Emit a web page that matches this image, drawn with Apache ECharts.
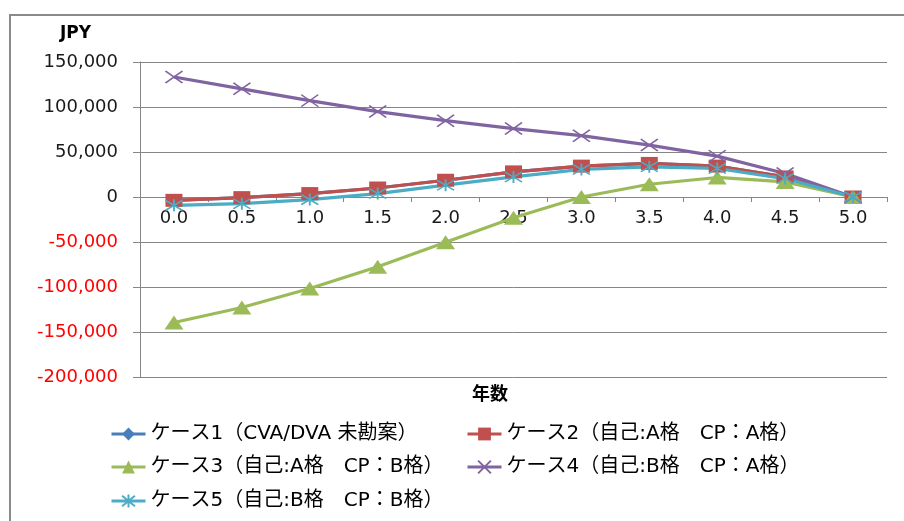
<!DOCTYPE html>
<html><head><meta charset="utf-8">
<script src="https://cdn.jsdelivr.net/npm/echarts@6/dist/echarts.min.js"></script>
<style>html,body{margin:0;padding:0;background:#fff}#c{width:904px;height:521px}</style>
</head><body><div id="c"></div>
<script>
const categories = ['0.0','0.5','1.0','1.5','2.0','2.5','3.0','3.5','4.0','4.5','5.0'];
const case1 = [-3700, -700, 3800, 10000, 18600, 27900, 34300, 37300, 34300, 22300, 0];
const case2 = [-3700, -700, 3800, 10000, 18600, 27900, 34300, 37300, 34300, 22300, 0];
const case3 = [-139500, -122800, -101600, -77400, -50200, -23000, 0, 14200, 21700, 16700, 0];
const case4 = [133300, 120200, 107100, 94900, 84800, 76000, 68100, 57700, 45400, 26100, 0];
const case5 = [-9300, -7400, -2900, 3800, 13100, 22300, 30600, 33500, 31700, 20500, 0];
const seriesNames = ['ケース1（CVA/DVA 未勘案）','ケース2（自己:A格　CP：A格）','ケース3（自己:A格　CP：B格）','ケース4（自己:B格　CP：A格）','ケース5（自己:B格　CP：B格）'];
const yMin = -200000, yMax = 150000, yStep = 50000;

const FONT = '"DejaVu Sans", "Noto Sans CJK JP", sans-serif';
const chart = echarts.init(document.getElementById('c'));
function mk(name, data, color, symbol, size, hollow) {
  return {
    name, type: 'line', data, symbol, symbolSize: size, showAllSymbol: true,
    lineStyle: { color, width: 3.2 },
    itemStyle: hollow ? { color: 'rgba(0,0,0,0)', borderColor: color, borderWidth: 1.6 } : { color },
    emphasis: { disabled: true }, animation: false
  };
}
const X = 'path://M0,0 L10,10 M10,0 L0,10';
const STAR = 'path://M0,0 L10,10 M10,0 L0,10 M5,-1 L5,11';
const legendText = { color: '#000', fontSize: 20, fontFamily: FONT, lineHeight: 22 };
function lg(i, left, top) {
  return { orient: 'horizontal', left, top, padding: 0, itemWidth: 34, itemHeight: 16, textStyle: legendText,
    lineStyle: { width: 3 }, data: [seriesNames[i]], selectedMode: false };
}
chart.setOption({
  animation: false,
  grid: { left: 140, right: 17, top: 62, bottom: 144 },
  graphic: [
    { type: 'rect', shape: { x: 10, y: 15, width: 1000, height: 1000 }, style: { fill: 'none', stroke: '#8a8a8a', lineWidth: 2 }, silent: true },
    { type: 'text', left: 60, top: 25, style: { text: 'JPY', font: 'bold 17px ' + FONT, fill: '#000' } },
    { type: 'text', left: 472, top: 386, style: { text: '年数', font: 'bold 18px ' + FONT, fill: '#000' } }
  ],
  legend: [lg(0, 110, 423), lg(1, 466, 423), lg(2, 110, 456), lg(3, 466, 456), lg(4, 110, 490)],
  xAxis: {
    type: 'category', data: categories, boundaryGap: true, position: 'bottom', offset: -180,
    axisLine: { onZero: false, lineStyle: { color: '#868686', width: 1 } },
    axisTick: { show: true, interval: 0, length: 5, lineStyle: { color: '#868686' } },
    axisLabel: { interval: 0, margin: 12, color: '#1a1a1a', fontSize: 18, fontFamily: FONT },
    splitLine: { show: false }
  },
  yAxis: {
    type: 'value', min: yMin, max: yMax, interval: yStep,
    axisLine: { show: true, lineStyle: { color: '#868686' } },
    axisTick: { show: true, length: 7, lineStyle: { color: '#868686' } },
    splitLine: { show: true, lineStyle: { color: '#868686', width: 1 } },
    axisLabel: {
      margin: 22, color: '#1a1a1a', fontSize: 18, fontFamily: FONT,
      formatter: v => { const s = (v < 0 ? '-' : '') + Math.abs(v).toLocaleString('en-US'); return v < 0 ? '{n|' + s + '}' : s; },
      rich: { n: { color: '#ff0000', fontSize: 18, fontFamily: FONT } }
    }
  },
  series: [
    mk(seriesNames[0], case1, '#4A7EBB', 'diamond', [12, 12]),
    mk(seriesNames[1], case2, '#C0504D', 'rect', [17, 13]),
    mk(seriesNames[2], case3, '#9BBB59', 'triangle', [19, 14]),
    mk(seriesNames[3], case4, '#8064A2', X, [17, 12], true),
    mk(seriesNames[4], case5, '#4BACC6', STAR, [17, 12], true)
  ]
});
</script></body></html>
